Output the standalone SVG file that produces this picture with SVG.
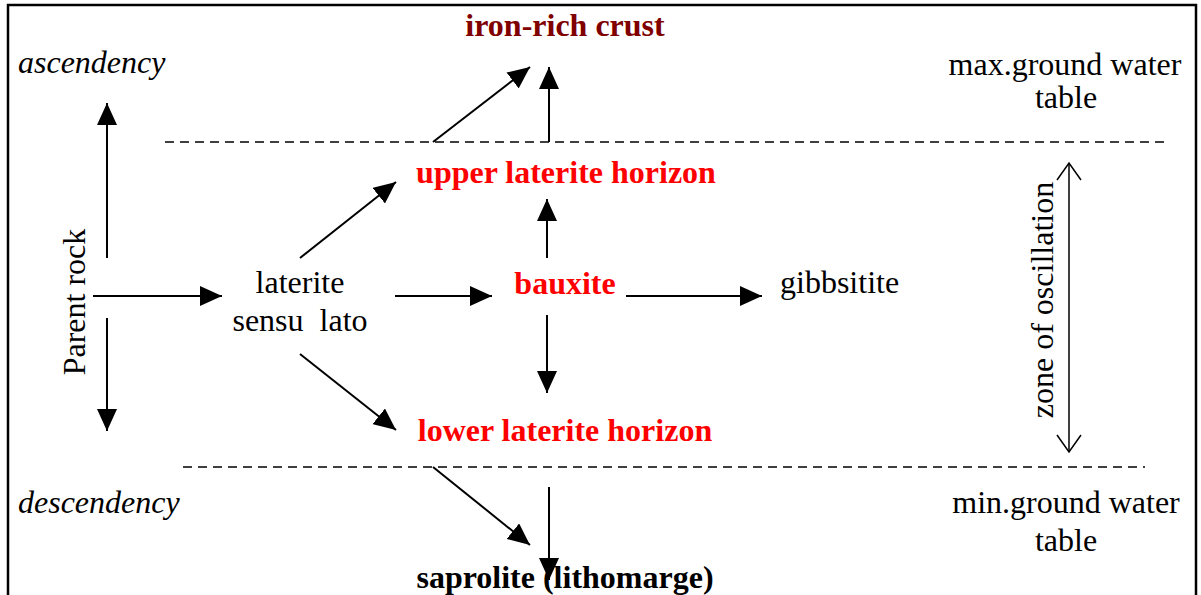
<svg xmlns="http://www.w3.org/2000/svg" width="1201" height="595" viewBox="0 0 1201 595">
<style>
text{font-family:'Liberation Serif','Times New Roman',serif;font-size:32px;fill:#000}
.b{font-weight:bold}
.red{fill:#ff0000}
.dred{fill:#800000}
.it{font-style:italic}
.c{stroke:#000;stroke-width:2;fill:none}
.d{stroke:#000;stroke-width:1.5;stroke-dasharray:9 6;fill:none}
</style>
<defs>
<marker id="ah" markerUnits="userSpaceOnUse" markerWidth="24" markerHeight="20" refX="22" refY="10" orient="auto">
<path d="M0,0 L22,10 L0,20 Z" fill="#000"/>
</marker>
<marker id="open" markerUnits="userSpaceOnUse" markerWidth="20" markerHeight="26" refX="18" refY="13" orient="auto-start-reverse">
<path d="M1,1 L18,13 L1,25" fill="none" stroke="#000" stroke-width="1.5"/>
</marker>
</defs>
<rect x="8" y="5" width="1188" height="620" fill="#fff" stroke="#000" stroke-width="2.5"/>
<g id="connectors">
<line class="d" x1="165" y1="142" x2="1165" y2="142"/>
<line class="d" x1="183" y1="467" x2="1145" y2="467"/>
<line class="c" x1="433" y1="142" x2="530" y2="67" marker-end="url(#ah)"/>
<line class="c" x1="549" y1="142" x2="549" y2="67" marker-end="url(#ah)"/>
<line class="c" x1="107" y1="258" x2="107" y2="103" marker-end="url(#ah)"/>
<line class="c" x1="107" y1="318" x2="107" y2="431" marker-end="url(#ah)"/>
<line class="c" x1="93" y1="296" x2="222" y2="296" marker-end="url(#ah)"/>
<line class="c" x1="395" y1="296" x2="492" y2="296" marker-end="url(#ah)"/>
<line class="c" x1="626" y1="296" x2="762" y2="296" marker-end="url(#ah)"/>
<line class="c" x1="547" y1="258" x2="547" y2="199" marker-end="url(#ah)"/>
<line class="c" x1="547" y1="315" x2="547" y2="393" marker-end="url(#ah)"/>
<line class="c" x1="300" y1="258" x2="396" y2="182" marker-end="url(#ah)"/>
<line class="c" x1="300" y1="354" x2="396" y2="430" marker-end="url(#ah)"/>
<line class="c" x1="433" y1="467" x2="530" y2="545" marker-end="url(#ah)"/>
<line class="c" x1="549" y1="487" x2="549" y2="580" marker-end="url(#ah)"/>
<line x1="1069" y1="163" x2="1069" y2="452" stroke="#000" stroke-width="1.5" marker-start="url(#open)" marker-end="url(#open)"/>
</g>
<g id="iron-rich-crust"><text class="b dred" x="565" y="36" text-anchor="middle">iron-rich crust</text></g>
<g id="ascendency"><text class="it" x="18" y="73">ascendency</text></g>
<g id="descendency"><text class="it" x="18" y="513">descendency</text></g>
<g id="max-gwt"><text x="1065" y="75" text-anchor="middle">max.ground water</text><text x="1066" y="108" text-anchor="middle">table</text></g>
<g id="min-gwt"><text x="1066" y="513" text-anchor="middle">min.ground water</text><text x="1066" y="551" text-anchor="middle">table</text></g>
<g id="upper"><text class="b red" x="566" y="183" text-anchor="middle">upper laterite horizon</text></g>
<g id="lower"><text class="b red" x="565" y="441" text-anchor="middle">lower laterite horizon</text></g>
<g id="bauxite"><text class="b red" x="565" y="294" text-anchor="middle">bauxite</text></g>
<g id="gibbsitite"><text x="780" y="293">gibbsitite</text></g>
<g id="laterite"><text x="300" y="293" text-anchor="middle">laterite</text><text x="300" y="331" text-anchor="middle" xml:space="preserve">sensu  lato</text></g>
<g id="parent-rock"><text transform="translate(85,302) rotate(-90)" text-anchor="middle">Parent rock</text></g>
<g id="zone"><text transform="translate(1053,300) rotate(-90)" text-anchor="middle">zone of oscillation</text></g>
<g id="saprolite"><text class="b" x="565" y="588" text-anchor="middle">saprolite (lithomarge)</text></g>
</svg>
